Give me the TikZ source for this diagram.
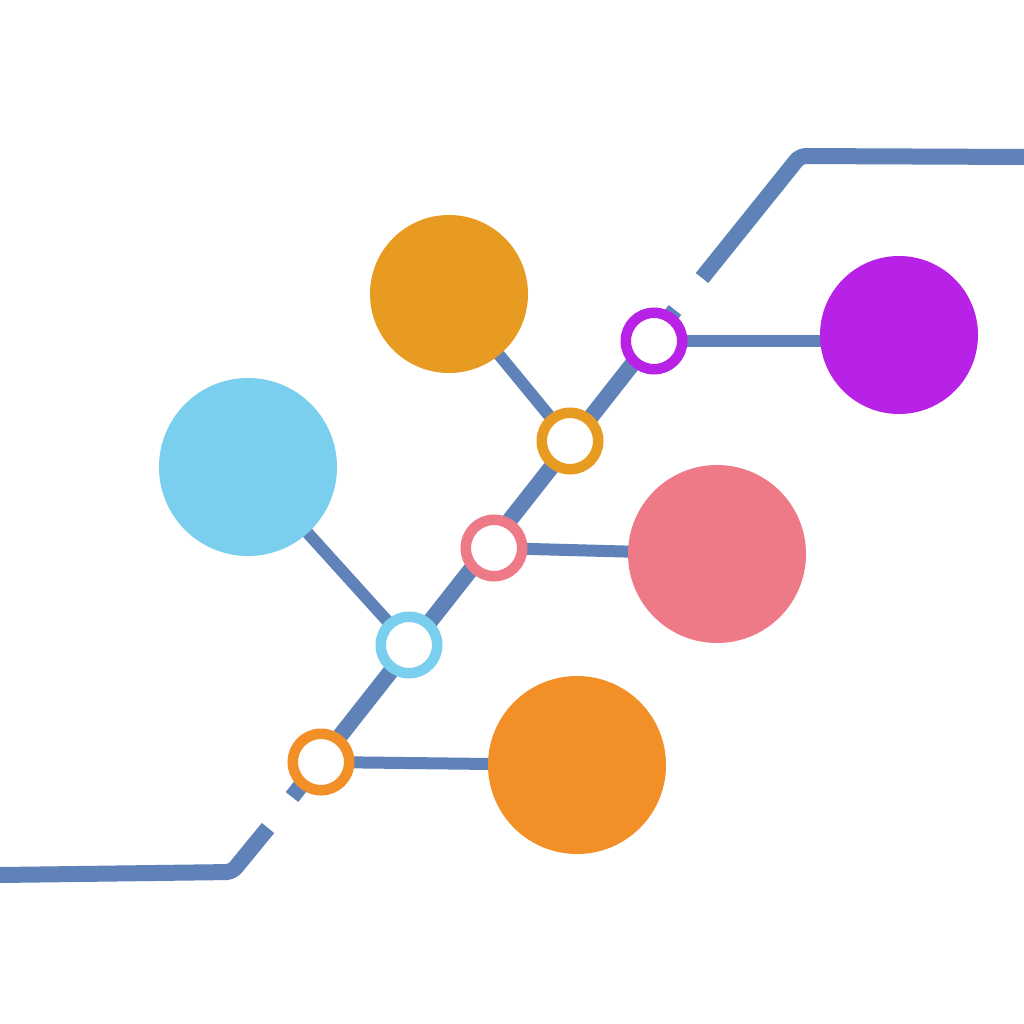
\documentclass[tikz,border=0pt]{standalone}
\usetikzlibrary{backgrounds}
\definecolor{linec}{HTML}{5F82B9}
\definecolor{ortop}{HTML}{E89B21}
\definecolor{lblue}{HTML}{7ACFEF}
\definecolor{purp}{HTML}{B822E6}
\definecolor{pinkc}{HTML}{EE7A88}
\definecolor{orbot}{HTML}{F28F27}
\begin{document}
\begin{tikzpicture}[x=1pt,y=-1pt,
  mainline/.style={draw=linec,line width=16pt,line cap=butt,line join=round},
  branch/.style={draw=linec,line width=12pt},
  bigc/.style={circle,inner sep=0pt,outer sep=0pt},
  ringc/.style={circle,draw,fill=white,line width=10.5pt,inner sep=0pt,minimum size=56.5pt}]
\useasboundingbox (0,0) rectangle (1024,1024);
% main line coordinates
\coordinate (m0) at (0,875);
\coordinate (m1) at (232,872);
\coordinate (m2) at (268,828);
\coordinate (m3) at (292,797);
\coordinate (m4) at (675,310);
\coordinate (m5) at (702,278);
\coordinate (m6) at (800,156);
\coordinate (m7) at (1024,157);
% big circles
\node[bigc,fill=ortop,minimum size=158pt] (c1) at (449,294) {};
\node[bigc,fill=lblue,minimum size=178pt] (c2) at (248,467) {};
\node[bigc,fill=purp,minimum size=158pt] (c3) at (899,335) {};
\node[bigc,fill=pinkc,minimum size=178pt] (c4) at (717,554) {};
\node[bigc,fill=orbot,minimum size=178pt] (c5) at (577,765) {};
% rings
\node[ringc,draw=orbot] (r1) at (321,762) {};
\node[ringc,draw=lblue] (r2) at (409,645) {};
\node[ringc,draw=pinkc] (r3) at (494,548) {};
\node[ringc,draw=ortop] (r4) at (570,441) {};
\node[ringc,draw=purp] (r5) at (654,341) {};
\begin{scope}[on background layer]
  \fill[white] (0,0) rectangle (1024,1024);
  \draw[mainline,rounded corners=6pt] (m0) -- (m1) -- (m2);
  \draw[mainline] (m3) -- (m4);
  \draw[mainline,rounded corners=6pt] (m5) -- (m6) -- (m7);
  \draw[branch] (c1.center) -- (r4.center);
  \draw[branch] (c2.center) -- (r2.center);
  \draw[branch] (r5.center) -- (c3.center |- r5.center);
  \draw[branch] (r3.center) -- (c4.center);
  \draw[branch] (r1.center) -- (c5.center);
\end{scope}
\end{tikzpicture}
\end{document}
